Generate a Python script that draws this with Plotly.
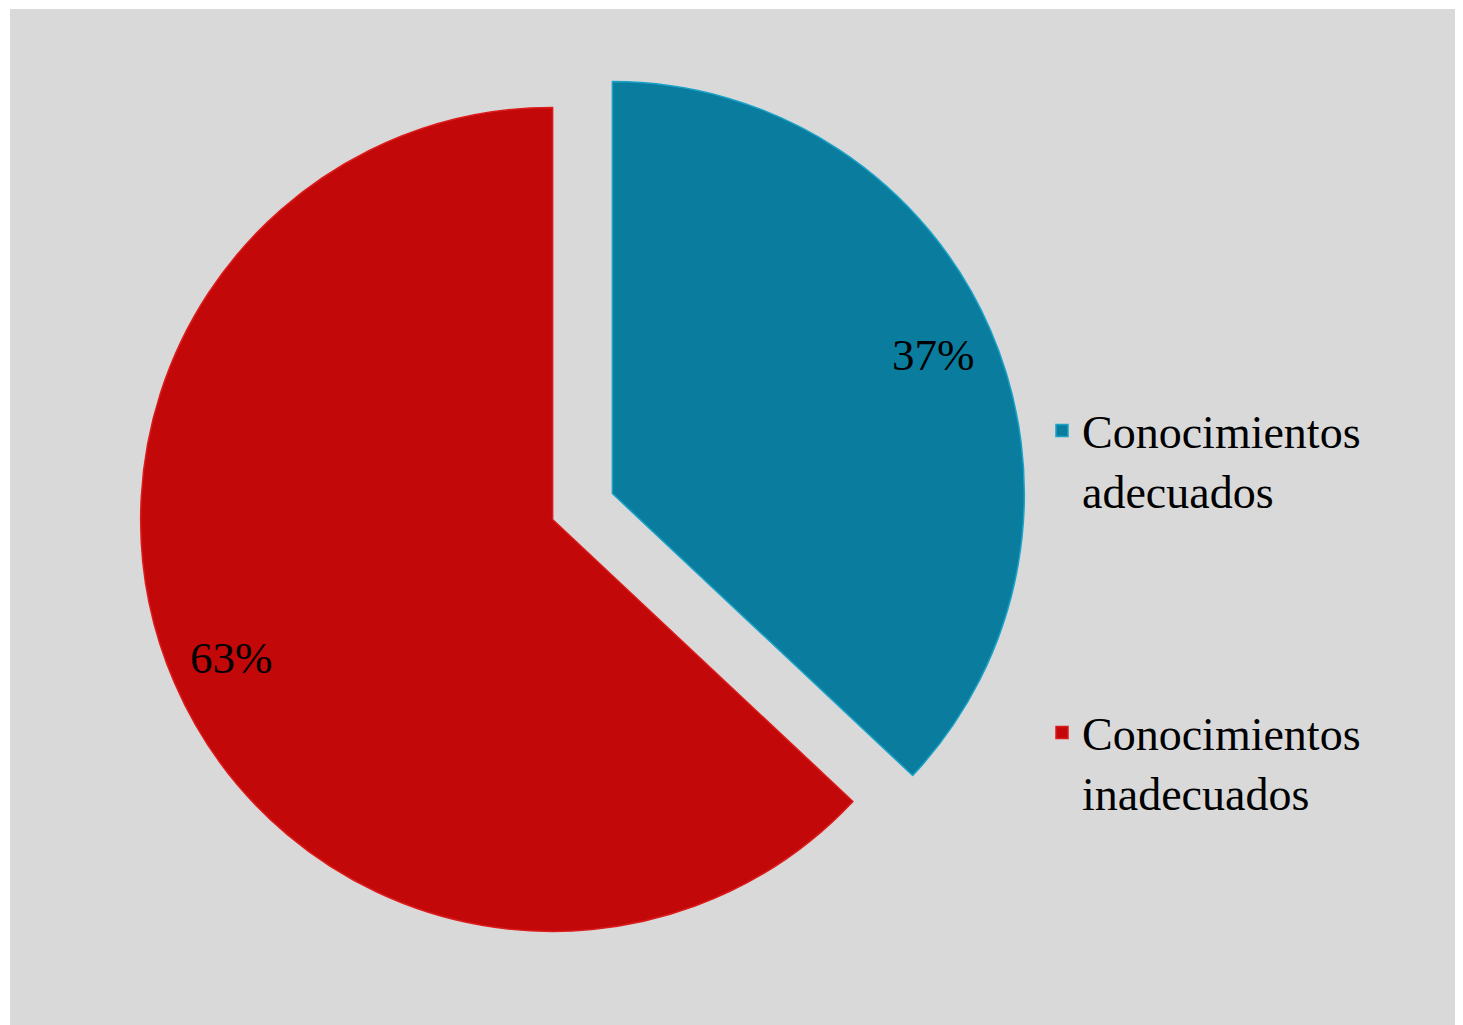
import math
import plotly.graph_objects as go

labels = ["Conocimientos<br>adecuados<br> <br> <br> ", "Conocimientos<br>inadecuados"]
values = [37, 63]
colors = ["#0a7d9e", "#c20808"]
edge_colors = ["#1aa2c8", "#dc1c1c"]
pulls = [0.079, 0.079]

# figure size (page has an 8px body margin)
W, H = 1455, 1017
OFF = 8

# pie domain in pixels (page coordinates of reference, shifted by body margin)
dx0, dx1 = 138 - OFF, 1027 - OFF
dy0, dy1 = 62 - OFF, 951 - OFF

fig = go.Figure()
fig.add_trace(go.Pie(
    labels=labels,
    values=values,
    sort=False,
    direction="clockwise",
    rotation=0,
    pull=pulls,
    marker=dict(colors=colors, line=dict(color=edge_colors, width=1.5)),
    textinfo="none",
    domain=dict(x=[dx0 / W, dx1 / W], y=[1 - dy1 / H, 1 - dy0 / H]),
    hoverinfo="label+percent",
))

# percentage labels placed along each slice's mid-angle
cx, cy = (dx0 + dx1) / 2, (dy0 + dy1) / 2
radius = min(dx1 - dx0, dy1 - dy0) / 2 / (1 + max(pulls))
total = sum(values)
cum = 0
annotations = []
for v, p in zip(values, pulls):
    mid = cum + v / 2
    cum += v
    ang = math.radians(90 - 360 * mid / total)
    rr = radius * (p + 0.85)
    px = cx + rr * math.cos(ang)
    py = cy - rr * math.sin(ang)
    annotations.append(dict(
        x=px / W, y=1 - py / H, xref="paper", yref="paper",
        text=f"{round(100 * v / total)}%", showarrow=False,
        font=dict(family="Liberation Serif", size=45, color="black"),
        xanchor="center", yanchor="middle",
    ))

fig.update_layout(
    width=W, height=H,
    margin=dict(l=0, r=0, t=0, b=0),
    paper_bgcolor="white",
    plot_bgcolor="white",
    showlegend=True,
    legend=dict(
        x=(1042 - OFF) / W, xanchor="left",
        y=1 - 386 / H, yanchor="top",
        valign="top",
        bgcolor="rgba(0,0,0,0)",
        font=dict(family="Liberation Serif", size=46, color="black"),
        traceorder="normal",
    ),
    annotations=annotations,
    shapes=[dict(
        type="rect", xref="paper", yref="paper",
        x0=(10 - OFF) / W, x1=1.0, y0=0.0, y1=1 - (9 - OFF) / H,
        fillcolor="#d9d9d9", line=dict(width=0), layer="below",
    )],
)

fig.write_html("out.html")
